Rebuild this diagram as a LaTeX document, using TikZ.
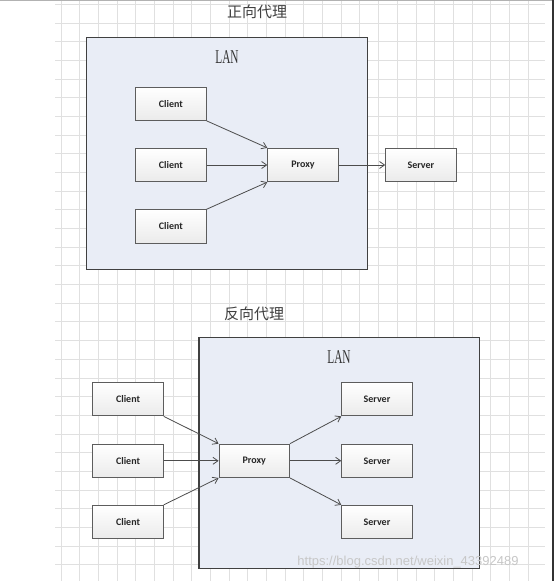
\documentclass[tikz,border=0pt]{standalone}
\usepackage{fontspec}
\setmainfont{Liberation Serif}
\newfontfamily\boxfont{Carlito}
\newfontfamily\cjk{Noto Sans CJK SC}
\newfontfamily\wmfont{Liberation Sans}
\usetikzlibrary{arrows.meta}
\definecolor{lanfill}{RGB}{233,237,246}
\definecolor{edge}{RGB}{64,64,64}
\definecolor{gridc}{RGB}{224,224,224}
\tikzset{
  lanbox/.style={draw=edge, line width=1.2pt, fill=lanfill},
  pbox/.style={draw=edge!85, line width=0.9pt, top color=white, bottom color=black!8,
    minimum width=70.5pt, minimum height=33.4pt, inner sep=0pt,
    font=\boxfont\bfseries\fontsize{10}{12}\selectfont, text=black!85},
  conn/.style={draw=black!70, line width=0.8pt, -{Straight Barb[length=5pt,width=7pt]}},
  titletxt/.style={font=\cjk\fontsize{15}{18}\selectfont, text=black!75, inner sep=0pt},
  lantxt/.style={font=\fontsize{19.5}{22}\selectfont, text=black!80, inner sep=0pt}
}
\begin{document}
\begin{tikzpicture}[x=1pt,y=-1pt]
\useasboundingbox (0,0) rectangle (554,581);
\fill[white] (0,0) rectangle (554,581);
% grid
\foreach \i in {0,...,25}{
  \draw[gridc, line width=0.8pt] ({61+18.68*\i},0) -- ({61+18.68*\i},581);
}
\foreach \j in {0,...,30}{
  \draw[gridc, line width=0.8pt] (55,{4.3+18.68*\j}) -- (545,{4.3+18.68*\j});
}
\draw[black!30, line width=1.2pt] (0,0.6) -- (554,0.6);
\draw[black!80, line width=1.5pt] (553.2,0) -- (553.2,581);

% ---------- forward proxy ----------
\node[titletxt] (t1) at (257,12) {正向代理};
\draw[lanbox] (86.7,37.7) rectangle (367.3,269.3);
\node[lantxt] (lan1) at (227,57) {\scalebox{0.58}[1]{LAN}};
\node[pbox] (fc1) at (170.9,103.7) {Client};
\node[pbox] (fc2) at (170.9,165) {Client};
\node[pbox] (fc3) at (170.9,226.4) {Client};
\node[pbox] (fp) at (303,165) {Proxy};
\node[pbox] (fs) at (420.9,165) {Server};
\draw[conn] (fc1.south east) -- (fp.north west);
\draw[conn] (fc2.east) -- (fp.west);
\draw[conn] (fc3.north east) -- (fp.south west);
\draw[conn] (fp.east) -- (fs.west);

% ---------- reverse proxy ----------
\node[titletxt] (t2) at (254,314) {反向代理};
\draw[lanbox] (199,337.7) rectangle (479.3,568.3);
\node[lantxt] (lan2) at (339,357.5) {\scalebox{0.58}[1]{LAN}};
\node[pbox] (rc1) at (128,399.2) {Client};
\node[pbox] (rc2) at (128,460.8) {Client};
\node[pbox] (rc3) at (128,522) {Client};
\node[pbox] (rp) at (254.3,460.8) {Proxy};
\node[pbox] (rs1) at (377,399.2) {Server};
\node[pbox] (rs2) at (377,460.8) {Server};
\node[pbox] (rs3) at (377,522) {Server};
\draw[conn] (rc1.south east) -- (rp.north west);
\draw[conn] (rc2.east) -- (rp.west);
\draw[conn] (rc3.north east) -- (rp.south west);
\draw[conn] (rp.north east) -- (rs1.south west);
\draw[conn] (rp.east) -- (rs2.west);
\draw[conn] (rp.south east) -- (rs3.north west);

% watermark
\node[font=\wmfont\fontsize{13}{15}\selectfont, text=black!22, inner sep=0pt] (wm) at (408,562) {https://blog.csdn.net/weixin\_43392489};
\end{tikzpicture}
\end{document}
